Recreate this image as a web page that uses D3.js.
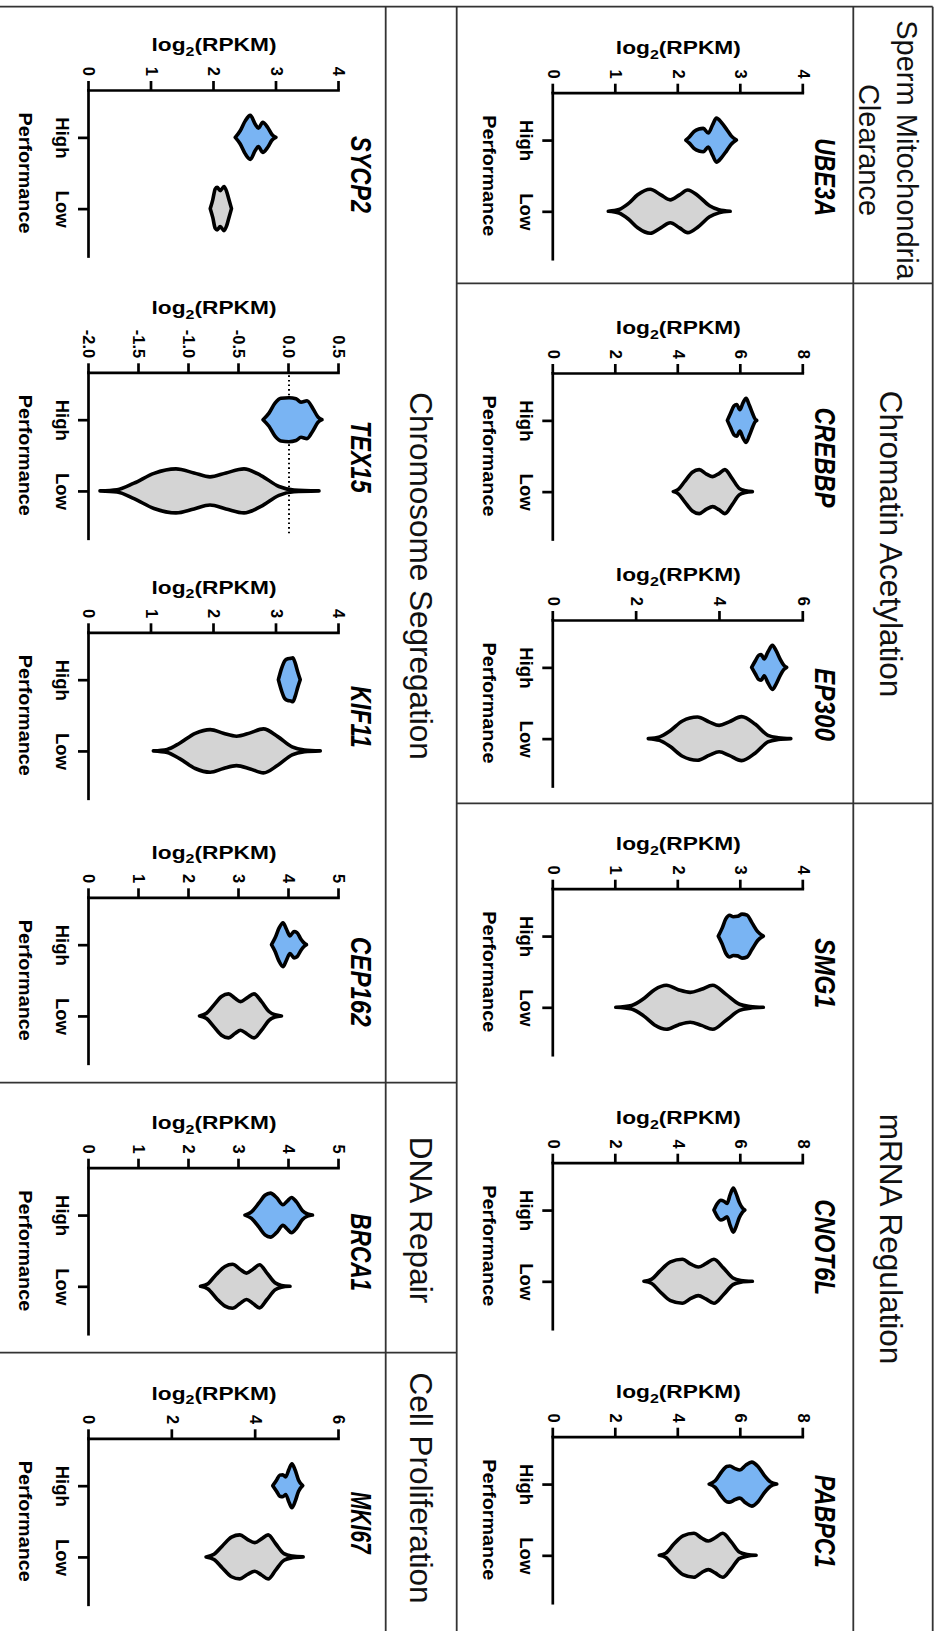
<!DOCTYPE html>
<html>
<head>
<meta charset="utf-8">
<script src="https://cdn.jsdelivr.net/npm/d3@7"></script>
<style>
  html, body { margin: 0; padding: 0; background: #fff; }
  svg { display: block; }
</style>
</head>
<body>
<svg id="fig" width="940" height="1631"></svg>
<script>
// ---------------------------------------------------------------
// Data: expression (log2 RPKM) density profiles per gene and group.
// Each profile is a list of [log2(RPKM), relative density] pairs.
// ---------------------------------------------------------------
const groups = ["High", "Low"];

const ticksUBE3A  = [0, 1, 2, 3, 4];
const ticksCREBBP = [0, 2, 4, 6, 8];
const ticksEP300  = [0, 2, 4, 6];
const ticksSMG1   = [0, 1, 2, 3, 4];
const ticksCNOT6L = [0, 2, 4, 6, 8];
const ticksPABPC1 = [0, 2, 4, 6, 8];
const ticksSYCP2  = [0, 1, 2, 3, 4];
const ticksTEX15  = [-2.0, -1.5, -1.0, -0.5, 0.0, 0.5];
const ticksKIF11  = [0, 1, 2, 3, 4];
const ticksCEP162 = [0, 1, 2, 3, 4, 5];
const ticksBRCA1  = [0, 1, 2, 3, 4, 5];
const ticksMKI67  = [0, 2, 4, 6];

const ube3aHigh  = [[2.12,0],[2.18,0.15],[2.25,0.38],[2.33,0.5],[2.40,0.53],[2.48,0.32],[2.55,0.7],[2.61,1.0],[2.69,0.8],[2.77,0.5],[2.85,0.18],[2.93,0]];
const ube3aLow   = [[0.88,0],[1.05,0.08],[1.20,0.35],[1.35,0.75],[1.55,1.0],[1.72,0.75],[1.87,0.52],[2.02,0.75],[2.15,0.97],[2.32,0.7],[2.50,0.25],[2.65,0.07],[2.83,0]];
const crebbpHigh = [[5.57,0],[5.68,0.35],[5.78,0.65],[5.87,0.72],[5.97,0.48],[6.07,0.8],[6.17,1.0],[6.27,0.7],[6.38,0.3],[6.45,0.08],[6.51,0]];
const crebbpLow  = [[3.84,0],[4.00,0.1],[4.20,0.45],[4.45,0.88],[4.67,1.0],[4.90,0.8],[5.10,0.68],[5.30,0.82],[5.49,1.0],[5.72,0.6],[5.95,0.15],[6.15,0.04],[6.37,0]];
const ep300High  = [[4.76,0],[4.85,0.3],[4.93,0.55],[4.99,0.58],[5.06,0.38],[5.15,0.7],[5.26,1.0],[5.35,0.75],[5.45,0.35],[5.53,0.1],[5.60,0]];
const ep300Low   = [[2.28,0],[2.55,0.08],[2.80,0.35],[3.10,0.8],[3.46,0.98],[3.75,0.75],[3.98,0.6],[4.22,0.76],[4.52,1.0],[4.85,0.65],[5.15,0.15],[5.40,0.04],[5.70,0]];
const smg1High   = [[2.64,0],[2.70,0.35],[2.76,0.78],[2.82,0.95],[2.88,0.88],[2.95,0.9],[3.02,1.0],[3.10,0.95],[3.18,0.6],[3.27,0.2],[3.36,0]];
const smg1Low    = [[1.00,0],[1.25,0.08],[1.45,0.4],[1.62,0.8],[1.81,1.0],[2.00,0.8],[2.19,0.68],[2.37,0.82],[2.55,1.0],[2.76,0.6],[2.98,0.14],[3.15,0.04],[3.36,0]];
const cnot6lHigh = [[5.14,0],[5.25,0.3],[5.36,0.45],[5.46,0.4],[5.56,0.3],[5.66,0.7],[5.76,1.0],[5.85,0.75],[5.95,0.35],[6.05,0.1],[6.13,0]];
const cnot6lLow  = [[2.90,0],[3.15,0.1],[3.40,0.45],[3.75,0.88],[4.13,1.0],[4.40,0.78],[4.64,0.65],[4.88,0.8],[5.14,1.0],[5.45,0.6],[5.75,0.15],[6.00,0.04],[6.37,0]];
const pabpc1High = [[4.99,0],[5.18,0.15],[5.38,0.55],[5.55,0.8],[5.65,0.82],[5.82,0.7],[5.97,0.64],[6.15,0.85],[6.35,1.0],[6.55,0.8],[6.75,0.4],[6.95,0.1],[7.15,0]];
const pabpc1Low  = [[3.39,0],[3.60,0.1],[3.85,0.5],[4.15,0.88],[4.50,1.0],[4.75,0.78],[4.96,0.65],[5.18,0.8],[5.42,1.0],[5.70,0.6],[5.95,0.15],[6.20,0.04],[6.49,0]];
const sycp2High  = [[2.34,0],[2.42,0.3],[2.50,0.75],[2.58,1.0],[2.66,0.6],[2.71,0.42],[2.78,0.68],[2.86,0.45],[2.93,0.12],[2.99,0]];
const sycp2Low   = [[1.94,0],[1.98,0.4],[2.02,0.9],[2.05,0.97],[2.10,0.82],[2.16,1.0],[2.20,0.8],[2.24,0.4],[2.28,0]];
const tex15High  = [[-0.26,0],[-0.20,0.3],[-0.14,0.75],[-0.08,0.97],[0.00,1.0],[0.07,0.95],[0.12,0.8],[0.18,0.86],[0.24,0.5],[0.29,0.12],[0.33,0]];
const tex15Low   = [[-1.89,0],[-1.72,0.05],[-1.55,0.35],[-1.35,0.8],[-1.13,1.0],[-0.95,0.82],[-0.79,0.64],[-0.63,0.82],[-0.45,1.0],[-0.28,0.7],[-0.10,0.2],[0.05,0.04],[0.30,0]];
const kif11High  = [[3.03,0],[3.08,0.5],[3.13,0.85],[3.18,0.95],[3.23,0.97],[3.26,1.0],[3.30,0.75],[3.34,0.35],[3.38,0]];
const kif11Low   = [[1.03,0],[1.25,0.07],[1.45,0.35],[1.70,0.8],[1.94,0.97],[2.15,0.8],[2.36,0.67],[2.58,0.82],[2.79,1.0],[3.02,0.65],[3.25,0.18],[3.45,0.04],[3.70,0]];
const cep162High = [[3.65,0],[3.72,0.3],[3.80,0.75],[3.88,1.0],[3.95,0.7],[4.02,0.4],[4.10,0.6],[4.16,0.55],[4.24,0.25],[4.30,0.08],[4.35,0]];
const cep162Low  = [[2.21,0],[2.35,0.12],[2.50,0.5],[2.65,0.88],[2.79,1.0],[2.92,0.8],[3.03,0.65],[3.16,0.82],[3.30,1.0],[3.45,0.65],[3.60,0.2],[3.72,0.05],[3.85,0]];
const brca1High  = [[3.12,0],[3.25,0.15],[3.40,0.55],[3.52,0.9],[3.63,1.0],[3.75,0.8],[3.88,0.47],[3.97,0.65],[4.05,0.8],[4.15,0.6],[4.27,0.2],[4.37,0.05],[4.47,0]];
const brca1Low   = [[2.23,0],[2.38,0.12],[2.55,0.55],[2.72,0.9],[2.87,1.0],[3.02,0.78],[3.15,0.6],[3.28,0.78],[3.41,0.98],[3.56,0.6],[3.72,0.16],[3.85,0.04],[4.02,0]];
const mki67High  = [[4.41,0],[4.50,0.25],[4.58,0.48],[4.65,0.5],[4.72,0.4],[4.80,0.75],[4.87,1.0],[4.95,0.7],[5.03,0.25],[5.13,0]];
const mki67Low   = [[2.81,0],[3.00,0.12],[3.20,0.5],[3.42,0.9],[3.62,1.0],[3.80,0.8],[3.98,0.65],[4.14,0.82],[4.30,1.0],[4.48,0.6],[4.68,0.15],[4.88,0.04],[5.14,0]];

// Reference level drawn for TEX15
const tex15Reference = [0];

// Functional categories (header text)
const sectionTitles = ["Sperm Mitochondria\nClearance", "Chromatin Acetylation", "mRNA Regulation",
                       "Chromosome Segregation", "DNA Repair", "Cell Proliferation"];

// ---------------------------------------------------------------
// Layout (figure frame is 1631 wide x 940 tall, turned upright)
// ---------------------------------------------------------------
const FONT = "'Liberation Sans', Arial, Helvetica, sans-serif";
const BLUE = "#79b4f3";
const GREY = "#d4d4d4";
const rows = [{ yTop: 136.7, yBot: 386.7 }, { yTop: 601, yBot: 851 }];
const PANEL_W = 166;
const HALF_W = 22;
const TICK = 9, TICK_PAD = 5;

const panels = [
  { gene: "UBE3A",  row: 0, x0: 92.7,   ticks: ticksUBE3A,  high: ube3aHigh,  low: ube3aLow,  titleLen: 78 },
  { gene: "CREBBP", row: 0, x0: 373,    ticks: ticksCREBBP, high: crebbpHigh, low: crebbpLow, titleLen: 100 },
  { gene: "EP300",  row: 0, x0: 620,    ticks: ticksEP300,  high: ep300High,  low: ep300Low,  titleLen: 73 },
  { gene: "SMG1",   row: 0, x0: 888.7,  ticks: ticksSMG1,   high: smg1High,   low: smg1Low,   titleLen: 70 },
  { gene: "CNOT6L", row: 0, x0: 1162.7, ticks: ticksCNOT6L, high: cnot6lHigh, low: cnot6lLow, titleLen: 96 },
  { gene: "PABPC1", row: 0, x0: 1436.7, ticks: ticksPABPC1, high: pabpc1High, low: pabpc1Low, titleLen: 93 },
  { gene: "SYCP2",  row: 1, x0: 90,     ticks: ticksSYCP2,  high: sycp2High,  low: sycp2Low,  titleLen: 77 },
  { gene: "TEX15",  row: 1, x0: 372.3,  ticks: ticksTEX15,  high: tex15High,  low: tex15Low,  titleLen: 72, ref: tex15Reference },
  { gene: "KIF11",  row: 1, x0: 632.3,  ticks: ticksKIF11,  high: kif11High,  low: kif11Low,  titleLen: 62 },
  { gene: "CEP162", row: 1, x0: 897.3,  ticks: ticksCEP162, high: cep162High, low: cep162Low, titleLen: 90 },
  { gene: "BRCA1",  row: 1, x0: 1167.7, ticks: ticksBRCA1,  high: brca1High,  low: brca1Low,  titleLen: 78 },
  { gene: "MKI67",  row: 1, x0: 1438.3, ticks: ticksMKI67,  high: mki67High,  low: mki67Low,  titleLen: 62 }
];

// header placement: centre along the figure width, baseline(s), font size
const headerPos = [
  { cx: 150,  base: [43.3, 81], size: 29 },
  { cx: 544,  base: [60], size: 31.5 },
  { cx: 1239, base: [60], size: 31.5 },
  { cx: 576,  base: [530], size: 31.5 },
  { cx: 1220, base: [530], size: 31.5 },
  { cx: 1488, base: [530], size: 31.5 }
];

// table grid lines [x1, y1, x2, y2]
const grid = [
  [6.7, 7.3, 6.7, 940],
  [6.7, 7.3, 1631, 7.3],
  [6.7, 86.7, 1631, 86.7],
  [6.7, 483.3, 1631, 483.3],
  [6.7, 554.3, 1631, 554.3],
  [283.3, 7.3, 283.3, 483.3],
  [803.3, 7.3, 803.3, 483.3],
  [1082.7, 483.3, 1082.7, 940],
  [1352.7, 483.3, 1352.7, 940]
];

// ---------------------------------------------------------------
const svg = d3.select("#fig");
const root = svg.append("g").attr("transform", "translate(940,0) rotate(90)");

root.append("g").selectAll("line").data(grid).join("line")
  .attr("x1", d => d[0]).attr("y1", d => d[1])
  .attr("x2", d => d[2]).attr("y2", d => d[3])
  .attr("stroke", "#333").attr("stroke-width", 1.8);

// stretch a text element horizontally (in its own frame) to a target advance
function fit(sel, x, y, rot, target) {
  const len = sel.node().getComputedTextLength();
  const k = target / len;
  sel.attr("transform", `translate(${x},${y}) rotate(${rot}) scale(${k},1)`);
}

// section headers
sectionTitles.forEach((t, i) => {
  const p = headerPos[i];
  t.split("\n").forEach((line, j) => {
    root.append("text")
      .attr("x", p.cx).attr("y", p.base[j])
      .attr("text-anchor", "middle")
      .attr("font-family", FONT).attr("font-size", p.size)
      .attr("fill", "#111")
      .text(line);
  });
});

panels.forEach(p => {
  const r = rows[p.row];
  const g = root.append("g");
  const y = d3.scaleLinear().domain(d3.extent(p.ticks)).range([r.yBot, r.yTop]);
  const x = d3.scalePoint().domain(groups).range([p.x0, p.x0 + PANEL_W]).padding(0.665);

  // dotted reference level
  if (p.ref) {
    g.selectAll("line.ref").data(p.ref).join("line").attr("class", "ref")
      .attr("x1", p.x0 + 3).attr("x2", p.x0 + PANEL_W - 2)
      .attr("y1", d => y(d)).attr("y2", d => y(d))
      .attr("stroke", "#000").attr("stroke-width", 2)
      .attr("stroke-dasharray", "1.6,3");
  }

  // violins
  const violins = [
    { grp: "High", prof: p.high, fill: BLUE },
    { grp: "Low",  prof: p.low,  fill: GREY }
  ];
  violins.forEach(v => {
    const cx = x(v.grp);
    const area = d3.area()
      .curve(d3.curveMonotoneY)
      .y(d => y(d[0]))
      .x0(d => cx - d[1] * HALF_W)
      .x1(d => cx + d[1] * HALF_W);
    g.append("path").datum(v.prof)
      .attr("d", area)
      .attr("fill", v.fill)
      .attr("stroke", "#000")
      .attr("stroke-width", 3.6)
      .attr("stroke-linejoin", "round")
      .attr("stroke-linecap", "round");
  });

  // value axis
  const isDecimal = p.ticks.some(t => !Number.isInteger(t));
  const fmt = isDecimal ? (d => d.toFixed(1)) : (d => String(d));
  const gy = g.append("g").attr("transform", `translate(${p.x0},0)`)
    .call(d3.axisLeft(y).tickValues(p.ticks).tickSize(TICK).tickPadding(TICK_PAD).tickSizeOuter(0).tickFormat(fmt));
  gy.attr("font-family", FONT).attr("font-size", 16.5).attr("font-weight", "bold");
  gy.select(".domain").attr("stroke-width", 2.7).attr("stroke-linecap", "square");
  gy.selectAll(".tick line").attr("stroke-width", 2.7);
  gy.selectAll(".tick text").attr("fill", "#000");
  const labelW = d3.max(gy.selectAll(".tick text").nodes(), n => n.getComputedTextLength());

  // group axis
  const gx = g.append("g").attr("transform", `translate(0,${r.yBot})`)
    .call(d3.axisBottom(x).tickSize(11).tickPadding(9).tickSizeOuter(0));
  gx.attr("font-family", FONT).attr("font-size", 18.5).attr("font-weight", "bold");
  gx.select(".domain").attr("stroke-width", 2.7).attr("stroke-linecap", "square");
  gx.selectAll(".tick line").attr("stroke-width", 2.7);
  gx.selectAll(".tick text").attr("fill", "#000");

  const midX = p.x0 + PANEL_W / 2;
  const midY = (r.yTop + r.yBot) / 2;

  // group axis title
  const perf = g.append("text")
    .attr("text-anchor", "middle")
    .attr("font-family", FONT).attr("font-size", 18.5).attr("font-weight", "bold")
    .text("Performance");
  fit(perf, midX, r.yBot + 70, 0, 121);

  // value axis title, placed clear of the widest tick label
  const yl = g.append("text")
    .attr("text-anchor", "middle")
    .attr("font-family", FONT).attr("font-size", 18.5).attr("font-weight", "bold");
  yl.append("tspan").text("log");
  yl.append("tspan").attr("font-size", 13).attr("dy", 4.5).text("2");
  yl.append("tspan").attr("dy", -4.5).text("(RPKM)");
  fit(yl, p.x0 - (TICK + TICK_PAD + labelW + 15.5), midY, -90, 125);

  // gene name
  const title = g.append("text")
    .attr("text-anchor", "middle")
    .attr("font-family", FONT).attr("font-size", 30)
    .attr("font-weight", "bold").attr("font-style", "italic")
    .text(p.gene);
  fit(title, midX + 1.5, r.yTop - 12, 0, p.titleLen);
});
</script>
</body>
</html>
